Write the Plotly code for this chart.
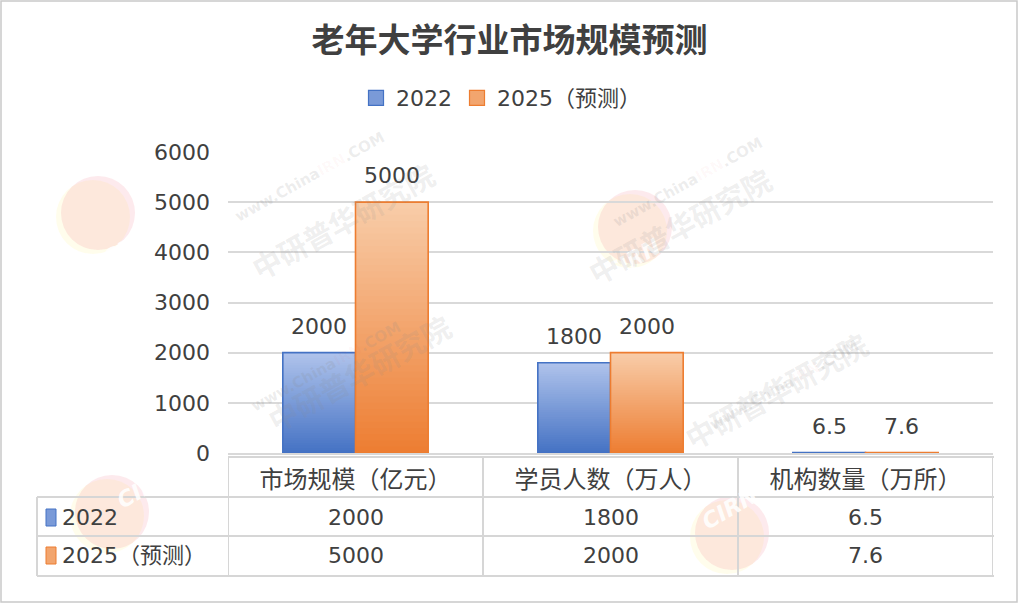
import plotly.graph_objects as go

# ---------------- data ----------------
categories = ["市场规模（亿元）", "学员人数（万人）", "机构数量（万所）"]
series_names = ["2022", "2025（预测）"]
values_2022 = [2000, 1800, 6.5]
values_2025 = [5000, 2000, 7.6]
label_2022 = ["2000", "1800", "6.5"]
label_2025 = ["5000", "2000", "7.6"]
y_ticks = [0, 1000, 2000, 3000, 4000, 5000, 6000]

# ---------------- layout geometry (pixels of the 1019x604 canvas) ----------------
W, H = 1019, 604
L, R, T, B = 228, 993, 152, 453


def px(x):
    return (x - L) / (R - L)


def py(y):
    return (B - y) / (B - T)


FONT = "Noto Sans CJK SC"
NUMFONT = "DejaVu Sans, Noto Sans CJK SC"
TXT = "#404040"
GRID = "#d9d9d9"

series = [
    dict(name=series_names[0], vals=values_2022, labels=label_2022,
         top=(176, 195, 235), bottom=(68, 114, 196), line="#4472c4", group="a", shift=-36.3),
    dict(name=series_names[1], vals=values_2025, labels=label_2025,
         top=(248, 205, 170), bottom=(237, 125, 49), line="#ed7d31", group="b", shift=36.3),
]

fig = go.Figure()
N = 40
annotations = []
shapes = []

for s in series:
    for i in range(N):
        f = (i + 0.5) / N  # 0 bottom -> 1 top
        c = tuple(round(s["bottom"][k] + (s["top"][k] - s["bottom"][k]) * f) for k in range(3))
        col = "rgb(%d,%d,%d)" % c
        # each slice runs from its start up to the bar top; later slices cover the upper part
        fig.add_trace(go.Bar(
            x=categories,
            y=[v * (N - i) / N for v in s["vals"]],
            base=[v * i / N for v in s["vals"]],
            offsetgroup=s["group"],
            marker=dict(color=col, line=dict(width=0)),
            name=s["name"],
            legendgroup=s["name"],
            showlegend=False,
            hoverinfo="skip",
        ))
    # outline
    fig.add_trace(go.Bar(
        x=categories,
        y=s["vals"],
        offsetgroup=s["group"],
        marker=dict(color="rgba(0,0,0,0)", line=dict(color=s["line"], width=1.6)),
        name=s["name"],
        legendgroup=s["name"],
        showlegend=False,
        hoverinfo="skip",
    ))
    # data labels
    for c, v, lab in zip(categories, s["vals"], s["labels"]):
        annotations.append(dict(
            x=c, y=v, xref="x", yref="y", text=lab, showarrow=False,
            xshift=s["shift"], yshift=12, yanchor="bottom",
            font=dict(family=NUMFONT, size=22, color=TXT)))

# legend entries (square swatches like the original)
for s in series:
    mid = tuple(round((s["top"][k] + s["bottom"][k]) / 2) for k in range(3))
    fig.add_trace(go.Scatter(
        x=[None], y=[None], mode="markers", name=s["name"], legendgroup=s["name"],
        marker=dict(symbol="square", size=15, color="rgb(%d,%d,%d)" % mid,
                    line=dict(color=s["line"], width=1.2)),
        hoverinfo="skip"))

# ---------------- data table below the axis ----------------
row_y = [517, 555]
for s, ry, swatch_y in zip(series, row_y, [(509, 526), (547, 564)]):
    for c, lab in zip(categories, s["labels"]):
        annotations.append(dict(
            x=c, y=py(ry), xref="x", yref="paper", text=lab, showarrow=False,
            yanchor="middle", font=dict(family=NUMFONT, size=22, color=TXT)))
    annotations.append(dict(
        x=px(60), y=py(ry), xref="paper", yref="paper", text=s["name"], showarrow=False,
        xanchor="left", yanchor="middle", font=dict(family=NUMFONT, size=22, color=TXT)))
    mid = tuple(round((s["top"][k] + s["bottom"][k]) / 2) for k in range(3))
    shapes.append(dict(type="rect", xref="paper", yref="paper",
                       x0=px(46), x1=px(56), y0=py(swatch_y[1]), y1=py(swatch_y[0]),
                       fillcolor="rgb(%d,%d,%d)" % mid, line=dict(color=s["line"], width=1)))

TL = "#d6d6d6"
# horizontal table lines
shapes.append(dict(type="line", xref="paper", yref="paper", x0=px(228), x1=px(994),
                   y0=py(457), y1=py(457), line=dict(color=TL, width=2)))
for yy in [497, 536, 576]:
    shapes.append(dict(type="line", xref="paper", yref="paper", x0=px(37), x1=px(994),
                       y0=py(yy), y1=py(yy), line=dict(color=TL, width=2)))
# vertical table lines at category boundaries
for xb in [-0.5, 0.5, 1.5, 2.5]:
    shapes.append(dict(type="line", xref="x", yref="paper", x0=xb, x1=xb,
                       y0=py(457), y1=py(576), line=dict(color=TL, width=2)))
shapes.append(dict(type="line", xref="paper", yref="paper", x0=px(37), x1=px(37),
                   y0=py(497), y1=py(576), line=dict(color=TL, width=2)))

# ---------------- watermarks ----------------
wm = [((98, 213), (241, 150)), ((635, 227), (781, 155)),
      ((112, 512), (257, 442)), ((732, 533), (877, 460))]
for (cx, cy), (tx, ty) in wm:
    r = 37
    shapes.append(dict(type="circle", xref="paper", yref="paper", layer="below",
                       x0=px(cx - r - 5), x1=px(cx + r - 5), y0=py(cy + r + 4), y1=py(cy - r + 4),
                       fillcolor="rgba(255,245,150,0.18)", line=dict(width=0)))
    shapes.append(dict(type="circle", xref="paper", yref="paper", layer="below",
                       x0=px(cx - r), x1=px(cx + r), y0=py(cy + r), y1=py(cy - r),
                       fillcolor="rgba(240,85,110,0.12)", line=dict(width=0)))
    annotations.append(dict(x=px(cx - 2), y=py(cy + 4), xref="paper", yref="paper", text="<b><i>CIRN</i></b>",
                            showarrow=False, textangle=-30,
                            font=dict(family="DejaVu Sans", size=22, color="rgba(255,255,255,0.9)")))
    annotations.append(dict(x=px(tx), y=py(ty), xref="paper", yref="paper", text="<b>中研普华研究院</b>",
                            showarrow=False, textangle=-29,
                            font=dict(family=FONT, size=29, color="rgba(140,140,140,0.15)")))
    annotations.append(dict(x=px(tx - 12), y=py(ty - 24), xref="paper", yref="paper",
                            text="<b>www.China<span style='color:rgba(235,80,80,0.22)'>IRN</span>.COM</b>",
                            showarrow=False, textangle=-29,
                            font=dict(family="DejaVu Sans", size=15, color="rgba(140,140,140,0.16)")))

# outer border of the chart
shapes.append(dict(type="rect", xref="paper", yref="paper",
                   x0=px(1), x1=px(1017), y0=py(602), y1=py(1),
                   line=dict(color="#c9c9c9", width=1.5), fillcolor="rgba(0,0,0,0)"))

fig.update_layout(
    width=W, height=H,
    margin=dict(l=L, r=W - R, t=T, b=H - B, pad=0),
    paper_bgcolor="white", plot_bgcolor="white",
    barmode="group", bargap=0.43, bargroupgap=0,
    title=dict(text="<b>老年大学行业市场规模预测</b>", x=0.5, xanchor="center",
               y=1 - 40 / H, yanchor="middle",
               font=dict(family=FONT, size=33, color=TXT)),
    legend=dict(orientation="h", x=px(356), xanchor="left", y=py(98), yanchor="middle",
                font=dict(family=NUMFONT, size=22, color=TXT), itemwidth=30,
                bgcolor="rgba(0,0,0,0)", traceorder="normal", itemclick=False),
    xaxis=dict(type="category", range=[-0.5, 2.5], showgrid=False, showline=True,
               linecolor=GRID, linewidth=2, ticks="", ticklabelstandoff=4,
               tickfont=dict(family=FONT, size=24, color=TXT), fixedrange=True),
    yaxis=dict(range=[0, 6000], tickvals=y_ticks, showgrid=True, gridcolor=GRID, gridwidth=2,
               zeroline=False, showline=False, ticks="", ticklabelstandoff=17,
               tickfont=dict(family=NUMFONT, size=22, color=TXT), fixedrange=True),
    annotations=annotations,
    shapes=shapes,
    hovermode=False,
)

fig.write_html("out.html", config={"displayModeBar": False},
               post_script="document.body.style.margin='0';")
